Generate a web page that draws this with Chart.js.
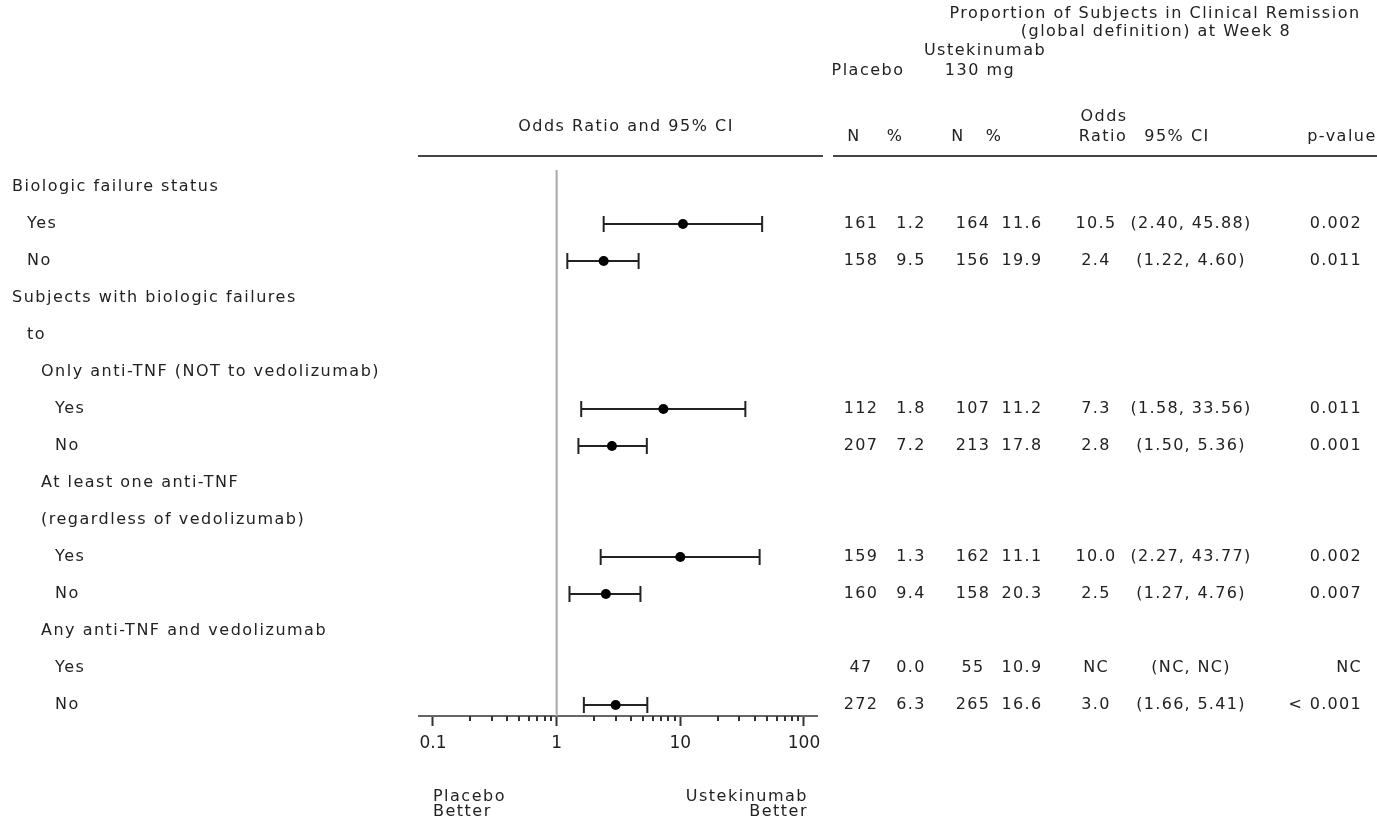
<!DOCTYPE html>
<html>
<head>
<meta charset="utf-8">
<script src="https://cdn.jsdelivr.net/npm/chart.js@4"></script>
<style>
  html, body { margin: 0; padding: 0; background: #fff; }
  canvas { display: block; }
</style>
</head>
<body>
<canvas id="forest" width="1377" height="829"></canvas>
<script>
// rows, top to bottom
var rowLabels = [
  'Biologic failure status',
  'Yes',
  'No',
  'Subjects with biologic failures',
  'to',
  'Only anti-TNF (NOT to vedolizumab)',
  'Yes',
  'No',
  'At least one anti-TNF',
  '(regardless of vedolizumab)',
  'Yes',
  'No',
  'Any anti-TNF and vedolizumab',
  'Yes',
  'No'
];
var rowIndent = [0, 1, 1, 0, 1, 2, 3, 3, 2, 2, 3, 3, 2, 3, 3];

var placeboN   = [null, 161, 158, null, null, null, 112, 207, null, null, 159, 160, null, 47, 272];
var placeboPct = [null, 1.2, 9.5, null, null, null, 1.8, 7.2, null, null, 1.3, 9.4, null, 0.0, 6.3];
var ustN       = [null, 164, 156, null, null, null, 107, 213, null, null, 162, 158, null, 55, 265];
var ustPct     = [null, 11.6, 19.9, null, null, null, 11.2, 17.8, null, null, 11.1, 20.3, null, 10.9, 16.6];
var oddsRatio  = [null, 10.5, 2.4, null, null, null, 7.3, 2.8, null, null, 10.0, 2.5, null, null, 3.0];
var ciLower    = [null, 2.40, 1.22, null, null, null, 1.58, 1.50, null, null, 2.27, 1.27, null, null, 1.66];
var ciUpper    = [null, 45.88, 4.60, null, null, null, 33.56, 5.36, null, null, 43.77, 4.76, null, null, 5.41];
var pValue     = [null, '0.002', '0.011', null, null, null, '0.011', '0.001', null, null, '0.002', '0.007', null, 'NC', '< 0.001'];

var majorTicks = [0.1, 1, 10, 100];
var minorTicks = [0.2, 0.3, 0.4, 0.5, 0.6, 0.7, 0.8, 0.9, 2, 3, 4, 5, 6, 7, 8, 9, 20, 30, 40, 50, 60, 70, 80, 90];

var textColor = '#222';
var indentX = [12, 27, 41, 55];
var colX = { pN: 861, pPct: 911, uN: 973, uPct: 1022, or: 1096, ci: 1191, p: 1362 };

// datasets
var datasets = [];
var points = [];
for (var i = 0; i < rowLabels.length; i++) {
  if (oddsRatio[i] !== null) {
    points.push({ x: oddsRatio[i], y: i });
  }
}
datasets.push({
  type: 'scatter',
  data: points,
  pointRadius: 5,
  pointBackgroundColor: '#000',
  pointBorderWidth: 0
});
for (var j = 0; j < rowLabels.length; j++) {
  if (ciLower[j] === null) continue;
  datasets.push({
    type: 'line',
    data: [{ x: ciLower[j], y: j }, { x: ciUpper[j], y: j }],
    borderColor: '#222',
    borderWidth: 2,
    pointStyle: 'line',
    pointRotation: 90,
    pointRadius: 8,
    pointBorderWidth: 2,
    pointBorderColor: '#222'
  });
}
datasets.push({
  type: 'line',
  data: [{ x: 1, y: -0.46 }, { x: 1, y: 14.3 }],
  borderColor: '#a8a8a8',
  borderWidth: 2,
  pointRadius: 0
});

function fmt(v, d) {
  return v === null ? '' : v.toFixed(d);
}

var tablePlugin = {
  id: 'tableText',
  afterDraw: function (chart) {
    var ctx = chart.ctx;
    var xs = chart.scales.x;
    var ys = chart.scales.y;
    ctx.save();
    ctx.fillStyle = textColor;
    ctx.textBaseline = 'middle';
    ctx.font = '16px "DejaVu Sans"';

    // minor ticks
    ctx.strokeStyle = '#333';
    ctx.lineWidth = 2;
    minorTicks.forEach(function (v) {
      var px = Math.round(xs.getPixelForValue(v));
      ctx.beginPath();
      ctx.moveTo(px, xs.top);
      ctx.lineTo(px, xs.top + 5);
      ctx.stroke();
    });

    // header rules
    ctx.strokeStyle = '#444';
    ctx.beginPath();
    ctx.moveTo(418, 156); ctx.lineTo(823, 156);
    ctx.moveTo(833, 156); ctx.lineTo(1377, 156);
    ctx.stroke();

    // row labels
    ctx.letterSpacing = '1.5px';
    ctx.textAlign = 'left';
    for (var i = 0; i < rowLabels.length; i++) {
      ctx.fillText(rowLabels[i], indentX[rowIndent[i]], ys.getPixelForValue(i));
    }

    // headers
    ctx.textAlign = 'center';
    ctx.fillText('Proportion of Subjects in Clinical Remission', 1155, 14);
    ctx.fillText('(global definition) at Week 8', 1156, 32);
    ctx.fillText('Ustekinumab', 985, 51);
    ctx.fillText('Placebo', 868, 71);
    ctx.fillText('130 mg', 980, 71);
    ctx.fillText('Odds', 1104, 117);
    ctx.fillText('Odds Ratio and 95% CI', 626, 127);
    ctx.fillText('N', 854, 137);
    ctx.fillText('%', 895, 137);
    ctx.fillText('N', 958, 137);
    ctx.fillText('%', 994, 137);
    ctx.fillText('Ratio', 1103, 137);
    ctx.fillText('95% CI', 1177, 137);
    ctx.fillText('p-value', 1342, 137);

    // bottom notes
    var left = xs.getPixelForValue(0.1);
    var right = xs.getPixelForValue(100) + 4;
    ctx.textAlign = 'left';
    ctx.fillText('Placebo', left, 797);
    ctx.fillText('Better', left, 812);
    ctx.textAlign = 'right';
    ctx.fillText('Ustekinumab', right, 797);
    ctx.fillText('Better', right, 812);

    // table values
    ctx.letterSpacing = '1.3px';
    for (var r = 0; r < rowLabels.length; r++) {
      if (placeboN[r] === null) continue;
      var y = ys.getPixelForValue(r);
      ctx.textAlign = 'center';
      ctx.fillText(String(placeboN[r]), colX.pN, y);
      ctx.fillText(fmt(placeboPct[r], 1), colX.pPct, y);
      ctx.fillText(String(ustN[r]), colX.uN, y);
      ctx.fillText(fmt(ustPct[r], 1), colX.uPct, y);
      var orText = oddsRatio[r] === null ? 'NC' : fmt(oddsRatio[r], 1);
      var ciText = ciLower[r] === null ? '(NC, NC)' : '(' + fmt(ciLower[r], 2) + ', ' + fmt(ciUpper[r], 2) + ')';
      ctx.fillText(orText, colX.or, y);
      ctx.fillText(ciText, colX.ci, y);
      ctx.textAlign = 'right';
      ctx.fillText(pValue[r], colX.p, y);
    }
    ctx.restore();
  }
};

new Chart(document.getElementById('forest'), {
  type: 'scatter',
  data: { datasets: datasets },
  options: {
    responsive: false,
    devicePixelRatio: 1,
    animation: false,
    events: [],
    layout: { padding: { left: 419, right: 560, top: 156, bottom: 73 } },
    plugins: { legend: { display: false }, tooltip: { enabled: false } },
    scales: {
      x: {
        type: 'logarithmic',
        min: 0.0771,
        max: 127.4,
        afterBuildTicks: function (scale) {
          scale.ticks = majorTicks.map(function (v) { return { value: v, major: true }; });
        },
        afterFit: function (scale) {
          scale.height = 40;
        },
        ticks: {
          autoSkip: false,
          maxRotation: 0,
          padding: 7,
          color: textColor,
          font: { family: 'DejaVu Sans', size: 17 },
          callback: function (value) { return String(value); }
        },
        grid: {
          drawOnChartArea: false,
          drawTicks: true,
          tickLength: 10,
          tickWidth: 2,
          tickColor: '#333'
        },
        border: { display: true, color: '#666', width: 2 }
      },
      y: {
        type: 'linear',
        display: false,
        reverse: true,
        min: -0.8378,
        max: 14.297
      }
    }
  },
  plugins: [tablePlugin]
});
</script>
</body>
</html>
